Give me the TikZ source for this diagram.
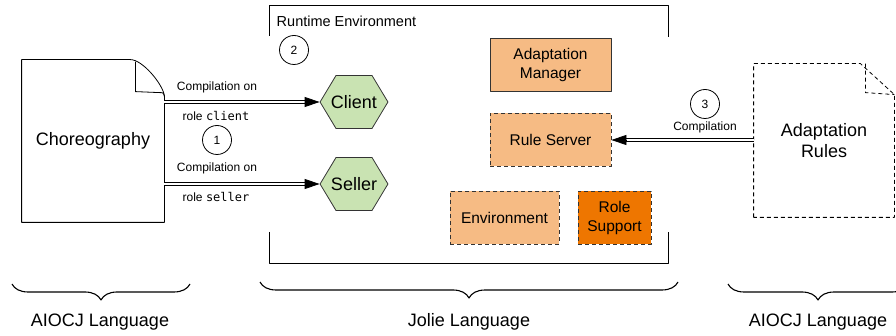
\documentclass[tikz,border=0pt]{standalone}
\usepackage{fontspec}
\setmainfont{Liberation Sans}
\setmonofont{DejaVu Sans Mono}
\usetikzlibrary{arrows.meta}
\usetikzlibrary{shapes.symbols}
\usetikzlibrary{decorations.pathreplacing}

\definecolor{hexgreen}{HTML}{C9E3B2}
\definecolor{lightorange}{HTML}{F6BB84}
\definecolor{darkorange}{HTML}{EE7600}
\definecolor{edgegrey}{HTML}{333333}

\tikzset{
  bigtext/.style={font=\fontsize{18}{21}\selectfont},
  boxtext/.style={font=\fontsize{15.5}{19}\selectfont},
  smalltext/.style={font=\fontsize{12}{14}\selectfont},
  rolehex/.style={shape=signal, signal to=east and west, signal pointer angle=118,
    draw=edgegrey, fill=hexgreen, minimum height=53pt, inner xsep=-5pt, inner ysep=0pt, bigtext},
  modbox/.style={rectangle, draw=edgegrey, fill=lightorange, minimum height=53pt,
    inner sep=0pt, align=center, boxtext},
  dashbox/.style={modbox, dash pattern=on 4pt off 3pt},
  numcirc/.style={circle, draw, minimum size=29pt, inner sep=0pt, smalltext},
  compline/.style={draw=black, line width=0.8pt, double=white, double distance=2pt},
  comptip/.style={-{Triangle[length=15pt,width=10pt]}, line width=0.8pt},
  langbrace/.style={decorate, decoration={brace, mirror, amplitude=16pt}, line width=1.1pt}
}

\begin{document}
\begin{tikzpicture}
    [x=1pt,y=-1pt,line width=0.8pt,line join=round]
    \useasboundingbox (0,0) rectangle (896,336);

    % runtime environment (open at the sides)
    \draw (269,36) -- (269,5) -- (668,5) -- (668,37);
    \draw (269,232) -- (269,263) -- (668,263) -- (668,232);
    \node[anchor=west, font=\fontsize{14.5}{17}\selectfont] (rtlabel) at (273,21) {Runtime Environment};

    % documents
    \node[minimum width=142pt, minimum height=162pt, bigtext] (choreo) at (93,141) {Choreography};
    \draw (choreo.south west) -- (choreo.north west) -- ([xshift=-34pt]choreo.north east)
      .. controls ([xshift=-22pt]choreo.north east) and ([xshift=-2pt,yshift=-24pt]choreo.north east)
      .. ([yshift=-36pt]choreo.north east) -- (choreo.south east) -- cycle;
    \draw ([xshift=-29pt,yshift=-2pt]choreo.north east) -- ([xshift=-29pt,yshift=-32pt]choreo.north east)
      -- ([xshift=-5pt,yshift=-33pt]choreo.north east)
      .. controls ([xshift=-1pt,yshift=-33pt]choreo.north east) .. ([yshift=-37pt]choreo.north east);

    \node[minimum width=140pt, minimum height=153pt, align=center, bigtext] (rules) at (824,140.5) {Adaptation\\Rules};
    \draw[dash pattern=on 4pt off 3pt] (rules.south west) -- (rules.north west) -- ([xshift=-34pt]rules.north east)
      -- ([yshift=-31pt]rules.north east) -- (rules.south east) -- cycle;
    \draw[dash pattern=on 4pt off 3pt] ([xshift=-29pt]rules.north east) -- ([xshift=-29pt,yshift=-29pt]rules.north east)
      -- ([yshift=-31pt]rules.north east);

    % roles
    \node[rolehex] (client) at (354,102) {Client};
    \node[rolehex] (seller) at (354,184) {Seller};

    % adaptation modules
    \node[modbox, minimum width=121pt] (manager) at (550.5,64.5) {Adaptation\\Manager};
    \node[dashbox, minimum width=121pt] (rserver) at (550.5,140) {Rule Server};
    \node[dashbox, minimum width=109pt] (envbox) at (504.5,217.5) {Environment};
    \node[dashbox, minimum width=73pt, fill=darkorange] (rolesup) at (614.5,217.5) {Role\\Support};

    % steps
    \node[numcirc] (stepone) at (217,140) {1};
    \node[numcirc] (steptwo) at (294,50) {2};
    \node[numcirc] (stepthree) at (705,104) {3};

    % compilations
    \draw[compline, shorten >=14pt] (choreo.east |- client.west) -- (client.west);
    \draw[comptip] ([xshift=-15pt]client.west) -- (client.west);
    \draw[compline, shorten >=14pt] (choreo.east |- seller.west) -- (seller.west);
    \draw[comptip] ([xshift=-15pt]seller.west) -- (seller.west);
    \draw[compline, shorten >=14pt] (rules.west |- rserver.east) -- (rserver.east);
    \draw[comptip] ([xshift=15pt]rserver.east) -- (rserver.east);

    \node[smalltext] (clientup) at (217,87) {Compilation on};
    \node[smalltext] (clientdown) at (216,116) {role \texttt{client}};
    \node[smalltext] (sellerup) at (217,168) {Compilation on};
    \node[smalltext] (sellerdown) at (216,197) {role \texttt{seller}};
    \node[smalltext] (rulesup) at (705,127) {Compilation};

    % languages
    \draw[langbrace] (12,284) -- (190,284);
    \draw[langbrace] (260,282) -- (678,282);
    \draw[langbrace] (728,284) -- (908,284);
    \node[bigtext] (aiocjleft) at (100,322) {AIOCJ Language};
    \node[bigtext] (jolie) at (469,322) {Jolie Language};
    \node[bigtext] (aiocjright) at (818,322) {AIOCJ Language};
\end{tikzpicture}
\end{document}
